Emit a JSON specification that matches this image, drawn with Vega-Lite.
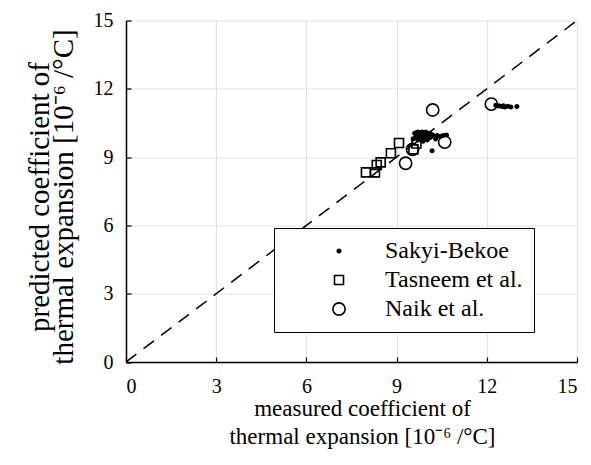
{
  "$schema": "https://vega.github.io/schema/vega-lite/v6.json",
  "autosize": "none",
  "width": 451,
  "height": 341.5,
  "padding": {"left": 126, "top": 20.5, "right": 14, "bottom": 103},
  "background": "white",
  "config": {
    "view": {"stroke": null},
    "font": "Liberation Serif",
    "axis": {
      "labelFont": "Liberation Serif",
      "titleFont": "Liberation Serif",
      "labelFontSize": 20,
      "titleFontSize": 23,
      "labelColor": "black",
      "titleColor": "black",
      "titleFontWeight": "normal",
      "domainColor": "black",
      "domainWidth": 1.5,
      "tickColor": "black",
      "tickWidth": 1.2,
      "tickSize": -5,
      "gridColor": "#e3e3e3",
      "gridWidth": 1.2
    },
    "legend": {
      "labelFont": "Liberation Serif",
      "labelFontSize": 24,
      "labelColor": "black"
    }
  },
  "datasets": {
    "pts": [
      {"study": "Sakyi-Bekoe", "measured": 9.55, "predicted": 9.8},
      {"study": "Sakyi-Bekoe", "measured": 9.6, "predicted": 10.05},
      {"study": "Sakyi-Bekoe", "measured": 9.65, "predicted": 9.9},
      {"study": "Sakyi-Bekoe", "measured": 9.7, "predicted": 10.1},
      {"study": "Sakyi-Bekoe", "measured": 9.72, "predicted": 9.75},
      {"study": "Sakyi-Bekoe", "measured": 9.75, "predicted": 9.95},
      {"study": "Sakyi-Bekoe", "measured": 9.8, "predicted": 10.05},
      {"study": "Sakyi-Bekoe", "measured": 9.82, "predicted": 9.85},
      {"study": "Sakyi-Bekoe", "measured": 9.85, "predicted": 10.1},
      {"study": "Sakyi-Bekoe", "measured": 9.88, "predicted": 9.7},
      {"study": "Sakyi-Bekoe", "measured": 9.9, "predicted": 9.95},
      {"study": "Sakyi-Bekoe", "measured": 9.92, "predicted": 10.05},
      {"study": "Sakyi-Bekoe", "measured": 9.95, "predicted": 9.8},
      {"study": "Sakyi-Bekoe", "measured": 9.98, "predicted": 10.1},
      {"study": "Sakyi-Bekoe", "measured": 10.0, "predicted": 9.9},
      {"study": "Sakyi-Bekoe", "measured": 10.02, "predicted": 9.75},
      {"study": "Sakyi-Bekoe", "measured": 10.05, "predicted": 10.0},
      {"study": "Sakyi-Bekoe", "measured": 10.1, "predicted": 9.85},
      {"study": "Sakyi-Bekoe", "measured": 10.12, "predicted": 10.05},
      {"study": "Sakyi-Bekoe", "measured": 10.15, "predicted": 9.9},
      {"study": "Sakyi-Bekoe", "measured": 10.2, "predicted": 9.97},
      {"study": "Sakyi-Bekoe", "measured": 10.3, "predicted": 9.8},
      {"study": "Sakyi-Bekoe", "measured": 10.35, "predicted": 9.95},
      {"study": "Sakyi-Bekoe", "measured": 10.45, "predicted": 9.9},
      {"study": "Sakyi-Bekoe", "measured": 10.55, "predicted": 9.95},
      {"study": "Sakyi-Bekoe", "measured": 10.66, "predicted": 9.97},
      {"study": "Sakyi-Bekoe", "measured": 10.18, "predicted": 9.28},
      {"study": "Sakyi-Bekoe", "measured": 12.3, "predicted": 11.28},
      {"study": "Sakyi-Bekoe", "measured": 12.4, "predicted": 11.25},
      {"study": "Sakyi-Bekoe", "measured": 12.5, "predicted": 11.22},
      {"study": "Sakyi-Bekoe", "measured": 12.55, "predicted": 11.25},
      {"study": "Sakyi-Bekoe", "measured": 12.6, "predicted": 11.2},
      {"study": "Sakyi-Bekoe", "measured": 12.7, "predicted": 11.23},
      {"study": "Sakyi-Bekoe", "measured": 12.8, "predicted": 11.2},
      {"study": "Sakyi-Bekoe", "measured": 13.0, "predicted": 11.22},
      {"study": "Tasneem et al.", "measured": 7.98, "predicted": 8.33},
      {"study": "Tasneem et al.", "measured": 8.28, "predicted": 8.33},
      {"study": "Tasneem et al.", "measured": 8.34, "predicted": 8.65},
      {"study": "Tasneem et al.", "measured": 8.47, "predicted": 8.77},
      {"study": "Tasneem et al.", "measured": 8.81, "predicted": 9.17},
      {"study": "Tasneem et al.", "measured": 9.08, "predicted": 9.62},
      {"study": "Tasneem et al.", "measured": 9.56, "predicted": 9.34},
      {"study": "Tasneem et al.", "measured": 9.66, "predicted": 9.6},
      {"study": "Tasneem et al.", "measured": 9.8, "predicted": 9.95},
      {"study": "Naik et al.", "measured": 9.3, "predicted": 8.73},
      {"study": "Naik et al.", "measured": 9.53, "predicted": 9.34},
      {"study": "Naik et al.", "measured": 10.2, "predicted": 11.07},
      {"study": "Naik et al.", "measured": 10.6, "predicted": 9.66},
      {"study": "Naik et al.", "measured": 12.15, "predicted": 11.33}
    ],
    "diag": [
      {"measured": 0, "predicted": 0},
      {"measured": 15, "predicted": 15}
    ]
  },
  "layer": [
    {
      "data": {"name": "diag"},
      "mark": {"type": "line", "color": "black", "strokeWidth": 1.5, "strokeDash": [13, 9], "clip": true},
      "encoding": {
        "x": {
          "field": "measured", "type": "quantitative",
          "scale": {"domain": [0, 15], "nice": false},
          "axis": {
            "values": [0, 3, 6, 9, 12, 15],
            "labelPadding": 19,
            "title": ["measured coefficient of", "thermal expansion [10⁻⁶ /°C]"],
            "titlePadding": 1,
            "titleLineHeight": 28,
            "titleX": 236
          }
        },
        "y": {
          "field": "predicted", "type": "quantitative",
          "scale": {"domain": [0, 15], "nice": false},
          "axis": {
            "values": [0, 3, 6, 9, 12, 15],
            "labelPadding": 18,
            "title": ["predicted coefficient of", "thermal expansion [10⁻⁶ /°C]"],
            "titleFontSize": 29,
            "titlePadding": 15,
            "titleLineHeight": 24,
            "titleY": 176
          }
        }
      }
    },
    {
      "data": {"name": "pts"},
      "mark": {"type": "point", "stroke": "black", "strokeWidth": 1.6, "opacity": 1},
      "encoding": {
        "x": {"field": "measured", "type": "quantitative"},
        "y": {"field": "predicted", "type": "quantitative"},
        "shape": {
          "field": "study", "type": "nominal",
          "scale": {"domain": ["Sakyi-Bekoe", "Tasneem et al.", "Naik et al."], "range": ["circle", "square", "circle"]},
          "legend": {
            "title": null,
            "orient": "none",
            "legendX": 148,
            "legendY": 207.5,
            "fillColor": "white",
            "strokeColor": "black",
            "padding": 11,
            "symbolOffset": 42,
            "labelOffset": 34,
            "labelFontSize": 24,
            "labelFont": "Liberation Serif",
            "rowPadding": 5,
            "symbolStrokeColor": "black",
            "symbolStrokeWidth": 1.6
          }
        },
        "fill": {
          "field": "study", "type": "nominal",
          "scale": {"domain": ["Sakyi-Bekoe", "Tasneem et al.", "Naik et al."], "range": ["black", "transparent", "transparent"]}
        },
        "size": {
          "field": "study", "type": "nominal",
          "scale": {"domain": ["Sakyi-Bekoe", "Tasneem et al.", "Naik et al."], "range": [12, 150, 160]}
        }
      }
    }
  ]
}
